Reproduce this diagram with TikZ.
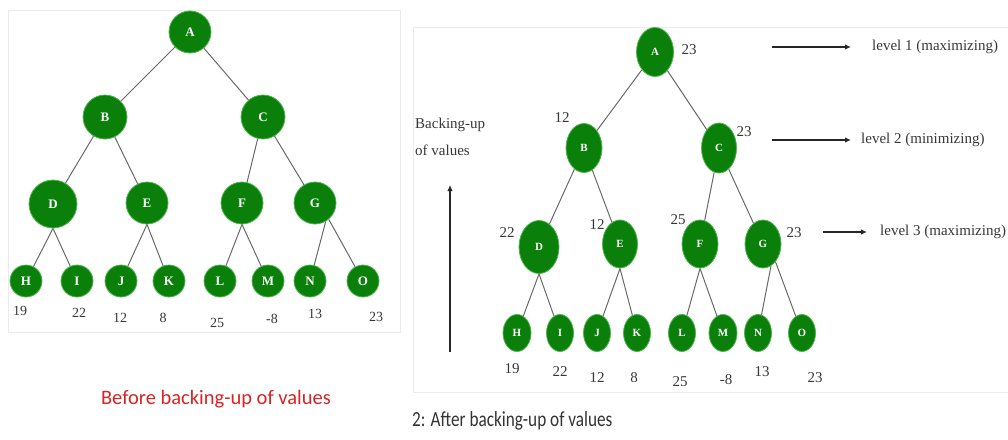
\documentclass[tikz,border=0pt]{standalone}
\usepackage{fontspec}
\setmainfont{Liberation Serif}
\newfontfamily\capfont{Carlito}
\newfontfamily\narrowfont[FakeStretch=0.8]{Carlito}
\usetikzlibrary{shapes.geometric,arrows.meta}

\definecolor{nodegreen}{RGB}{10,128,10}
\definecolor{rimgreen}{RGB}{80,180,80}
\definecolor{edgegray}{RGB}{105,105,105}
\definecolor{valgray}{RGB}{55,55,55}
\definecolor{capred}{RGB}{215,35,35}

\begin{document}
\begin{tikzpicture}[x=1pt,y=-1pt, every node/.style={inner sep=0pt, text=valgray, font=\fontsize{15}{18}\selectfont},
    lnode/.style={circle, draw=rimgreen, line width=0.8pt, fill=nodegreen, text=white, font=\bfseries\fontsize{13}{13}\selectfont},
    rnode/.style={ellipse, draw=rimgreen, line width=0.8pt, fill=nodegreen, text=white, font=\bfseries\fontsize{11}{11}\selectfont},
    edge/.style={draw=edgegray, line width=1pt},
    lval/.style={font=\fontsize{14}{14}\selectfont},
    lvlarrow/.style={draw=black!85, line width=1.2pt, -{Latex[length=6pt,width=5.5pt]}},
    panel/.style={draw=black!8, line width=0.8pt}]
    \useasboundingbox (0,0) rectangle (1008,439);

    % before backing-up
    \draw[panel] (8,10) rectangle (400,332);
    \node[lnode, minimum size=42pt] (lA) at (190,32) {A};
    \node[lnode, minimum size=44pt] (lB) at (105,117) {B};
    \node[lnode, minimum size=44pt] (lC) at (263,117) {C};
    \node[lnode, minimum size=48pt] (lD) at (53,204) {D};
    \node[lnode, minimum size=42pt] (lE) at (147,203) {E};
    \node[lnode, minimum size=42pt] (lF) at (242,203) {F};
    \node[lnode, minimum size=42pt] (lG) at (315,203) {G};
    \node[lnode, minimum size=32pt] (lH) at (26,281) {H};
    \node[lnode, minimum size=32pt] (lI) at (77,281) {I};
    \node[lnode, minimum size=32pt] (lJ) at (121,281) {J};
    \node[lnode, minimum size=32pt] (lK) at (169,281) {K};
    \node[lnode, minimum size=32pt] (lL) at (220,281) {L};
    \node[lnode, minimum size=32pt] (lM) at (268,281) {M};
    \node[lnode, minimum size=32pt] (lN) at (310,281) {N};
    \node[lnode, minimum size=32pt] (lO) at (363,281) {O};
    \draw[edge] (lA) -- (lB) (lA) -- (lC);
    \draw[edge] (lB) -- (lD) (lB) -- (lE) (lC) -- (lF) (lC) -- (lG);
    \draw[edge] (lD.south) -- (lH) (lD.south) -- (lI) (lE.south) -- (lJ) (lE.south) -- (lK);
    \draw[edge] (lF.south) -- (lL) (lF.south) -- (lM) (lG.-60) -- (lN) (lG.-50) -- (lO);
    \node[lval] at (20,311) {19};
    \node[lval] at (79,313) {22};
    \node[lval] at (120,318) {12};
    \node[lval] at (163,318) {8};
    \node[lval] at (217,323) {25};
    \node[lval] at (272,319) {-8};
    \node[lval] at (315,314) {13};
    \node[lval] at (376,317) {23};
    \node[text=capred, font=\capfont\fontsize{20.5}{20.5}\selectfont] (cap1) at (216,399) {Before backing-up of values};

    % after backing-up
    \draw[panel] (413,27) -- (1008,27) (413,27) -- (413,392) -- (1008,392);
    \node[rnode, minimum width=37pt, minimum height=49pt] (rA) at (655,52) {A};
    \node[rnode, minimum width=36pt, minimum height=49pt] (rB) at (584,148) {B};
    \node[rnode, minimum width=35pt, minimum height=50pt] (rC) at (719,148) {C};
    \node[rnode, minimum width=40pt, minimum height=53pt] (rD) at (539,247) {D};
    \node[rnode, minimum width=35pt, minimum height=48pt] (rE) at (620,244) {E};
    \node[rnode, minimum width=36pt, minimum height=48pt] (rF) at (700,244) {F};
    \node[rnode, minimum width=36pt, minimum height=48pt] (rG) at (763,244) {G};
    \node[rnode, minimum width=28pt, minimum height=37pt] (rH) at (517,333) {H};
    \node[rnode, minimum width=27pt, minimum height=37pt] (rI) at (560,333) {I};
    \node[rnode, minimum width=27pt, minimum height=37pt] (rJ) at (597,333) {J};
    \node[rnode, minimum width=27pt, minimum height=37pt] (rK) at (637,333) {K};
    \node[rnode, minimum width=27pt, minimum height=37pt] (rL) at (682,333) {L};
    \node[rnode, minimum width=28pt, minimum height=37pt] (rM) at (723,333) {M};
    \node[rnode, minimum width=27pt, minimum height=37pt] (rN) at (758,333) {N};
    \node[rnode, minimum width=27pt, minimum height=37pt] (rO) at (802,333) {O};
    \draw[edge] (rA) -- (rB) (rA) -- (rC);
    \draw[edge] (rB) -- (rD) (rB) -- (rE) (rC) -- (rF) (rC) -- (rG);
    \draw[edge] (rD.south) -- (rH) (rD.south) -- (rI) (rE.south) -- (rJ) (rE.south) -- (rK);
    \draw[edge] (rF.south) -- (rL) (rF.south) -- (rM) (rG.-70) -- (rN) (rG.-55) -- (rO);
    \node at (689,50) {23};
    \node at (562,118) {12};
    \node at (744,132) {23};
    \node at (507,233) {22};
    \node at (597,225) {12};
    \node at (678,220) {25};
    \node at (794,233) {23};
    \node at (512,369) {19};
    \node at (560,372) {22};
    \node at (597,378) {12};
    \node at (634,378) {8};
    \node at (680,382) {25};
    \node at (726,380) {-8};
    \node at (762,372) {13};
    \node at (815,378) {23};

    % backing-up arrow
    \node[anchor=north west, align=left, font=\fontsize{15}{27}\selectfont] (backup) at (415,118) {Backing-up\\of values};
    \coordinate (upfoot) at (450,352);
    \coordinate (uptip) at (450,185);
    \draw[lvlarrow] (upfoot) -- (uptip);

    % levels
    \node[anchor=west] (lev1) at (872,47) {level 1 (maximizing)};
    \node[anchor=west] (lev2) at (861,140) {level 2 (minimizing)};
    \node[anchor=west] (lev3) at (880,232) {level 3 (maximizing)};
    \coordinate (a1) at (772,47);
    \coordinate (a2) at (772,140);
    \coordinate (a3) at (823,232);
    \draw[lvlarrow, shorten >=21pt] (a1) -- (lev1.west);
    \draw[lvlarrow, shorten >=10pt] (a2) -- (lev2.west);
    \draw[lvlarrow, shorten >=13pt] (a3) -- (lev3.west);

    \node[anchor=west, text=black!80, font=\narrowfont\fontsize{21.5}{21.5}\selectfont] (cap2) at (412,421) {2: After backing-up of values};
\end{tikzpicture}
\end{document}
